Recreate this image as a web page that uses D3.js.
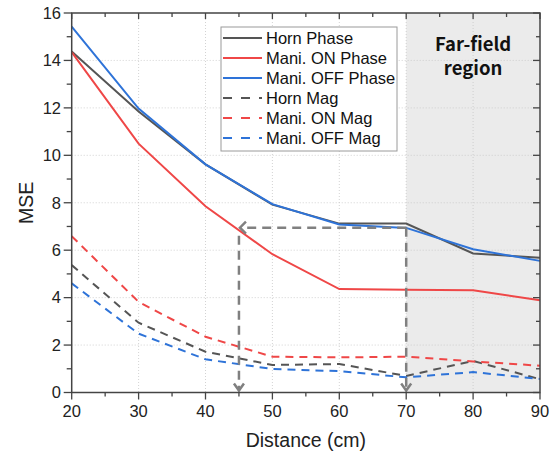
<!DOCTYPE html>
<html><head><meta charset="utf-8">
<script src="https://cdn.jsdelivr.net/npm/d3@7"></script>
<style>body{margin:0;background:#fff}svg{display:block}</style>
</head><body>
<svg id="c" width="552" height="455"></svg>
<script>
const distances = [20, 30, 40, 50, 60, 70, 80, 90];
const hornPhase = [14.38, 11.85, 9.62, 7.92, 7.12, 7.12, 5.86, 5.68];
const maniOnPhase = [14.35, 10.49, 7.85, 5.83, 4.36, 4.33, 4.31, 3.89];
const maniOffPhase = [15.43, 11.97, 9.62, 7.94, 7.08, 6.94, 6.04, 5.55];
const hornMag = [5.37, 2.94, 1.72, 1.16, 1.2, 0.7, 1.33, 0.56];
const maniOnMag = [6.59, 3.82, 2.35, 1.51, 1.48, 1.51, 1.31, 1.13];
const maniOffMag = [4.6, 2.48, 1.4, 0.99, 0.9, 0.64, 0.86, 0.57];
const seriesNames = ["Horn Phase", "Mani. ON Phase", "Mani. OFF Phase", "Horn Mag", "Mani. ON Mag", "Mani. OFF Mag"];
const xTicks = [20, 30, 40, 50, 60, 70, 80, 90];
const yTicks = [0, 2, 4, 6, 8, 10, 12, 14, 16];
const farField = [70, 90];
const arrowY = 6.95;
const arrowX = [45, 70];

const svg = d3.select("#c");
const L = 71.7, R = 540, T = 13, B = 392.5;
const x = d3.scaleLinear().domain([20, 90]).range([L, R]);
const y = d3.scaleLinear().domain([0, 16]).range([B, T]);
const font = "'Liberation Sans', Arial, sans-serif";

const colors = ["#555555", "#ef4747", "#2e73d8", "#555555", "#ef4747", "#2e73d8"];
const data = [hornPhase, maniOnPhase, maniOffPhase, hornMag, maniOnMag, maniOffMag];

// far-field shading
svg.append("rect").attr("x", x(farField[0])).attr("y", T)
  .attr("width", x(farField[1]) - x(farField[0])).attr("height", B - T)
  .attr("fill", "#ebebeb");

// grid
const g = svg.append("g");
xTicks.slice(1, -1).forEach(v => g.append("line").attr("x1", x(v)).attr("x2", x(v)).attr("y1", T).attr("y2", B)
  .attr("stroke", "#c8c8c8").attr("stroke-width", 0.8).attr("stroke-dasharray", "1,2"));
yTicks.slice(1, -1).forEach(v => g.append("line").attr("y1", y(v)).attr("y2", y(v)).attr("x1", L).attr("x2", R)
  .attr("stroke", "#c8c8c8").attr("stroke-width", 0.8).attr("stroke-dasharray", "1,2"));

// far-field text
const cx = (x(farField[0]) + x(farField[1])) / 2;
const ffFont = "'Noto Sans CJK KR', 'Noto Sans', sans-serif";
svg.append("text").attr("x", cx).attr("y", 51).attr("text-anchor", "middle")
  .attr("font-family", ffFont).attr("font-weight", "bold")
  .attr("font-size", 18.5).attr("fill", "#111").text("Far-field");
svg.append("text").attr("x", cx).attr("y", 75).attr("text-anchor", "middle")
  .attr("font-family", ffFont).attr("font-weight", "bold")
  .attr("font-size", 18.5).attr("fill", "#111").text("region");

// lines
const line = d3.line().x((d, i) => x(distances[i])).y(d => y(d));
data.forEach((s, i) => {
  svg.append("path").datum(s).attr("d", line).attr("fill", "none")
    .attr("stroke", colors[i]).attr("stroke-width", 2)
    .attr("stroke-dasharray", i >= 3 ? "8,6" : null);
});

// arrows
const ac = "#808080";
const ag = svg.append("g").attr("stroke", ac).attr("stroke-width", 2.5).attr("fill", "none");
ag.append("line").attr("x1", x(arrowX[1])).attr("x2", x(arrowX[0]) + 2).attr("y1", y(arrowY)).attr("y2", y(arrowY)).attr("stroke-dasharray", "9,6");
ag.append("line").attr("x1", x(arrowX[0])).attr("x2", x(arrowX[0])).attr("y1", y(arrowY) + 8).attr("y2", B - 2).attr("stroke-dasharray", "9,6");
ag.append("line").attr("x1", x(arrowX[1])).attr("x2", x(arrowX[1])).attr("y1", y(arrowY)).attr("y2", B - 2).attr("stroke-dasharray", "9,6");
ag.append("path").attr("d", `M${x(arrowX[0]) + 7},${y(arrowY) - 6} L${x(arrowX[0]) + 1},${y(arrowY)} L${x(arrowX[0]) + 7},${y(arrowY) + 6}`);
arrowX.forEach(v => ag.append("path").attr("d", `M${x(v) - 5},${B - 9} L${x(v)},${B - 2} L${x(v) + 5},${B - 9}`));

// frame
svg.append("rect").attr("x", L).attr("y", T).attr("width", R - L).attr("height", B - T)
  .attr("fill", "none").attr("stroke", "#444").attr("stroke-width", 1.5);

// axes ticks
const xMinor = d3.range(25, 90, 10);
const yMinor = d3.range(1, 16, 2);
const ax = svg.append("g").attr("stroke", "#444").attr("stroke-width", 1.3);
xTicks.forEach(v => { ax.append("line").attr("x1", x(v)).attr("x2", x(v)).attr("y1", B).attr("y2", B + 7);
  ax.append("line").attr("x1", x(v)).attr("x2", x(v)).attr("y1", T).attr("y2", T + 6); });
xMinor.forEach(v => { ax.append("line").attr("x1", x(v)).attr("x2", x(v)).attr("y1", B).attr("y2", B + 4);
  ax.append("line").attr("x1", x(v)).attr("x2", x(v)).attr("y1", T).attr("y2", T + 4); });
yTicks.forEach(v => { ax.append("line").attr("y1", y(v)).attr("y2", y(v)).attr("x1", L).attr("x2", L - 8);
  ax.append("line").attr("y1", y(v)).attr("y2", y(v)).attr("x1", R).attr("x2", R - 7); });
yMinor.forEach(v => { ax.append("line").attr("y1", y(v)).attr("y2", y(v)).attr("x1", L).attr("x2", L - 5);
  ax.append("line").attr("y1", y(v)).attr("y2", y(v)).attr("x1", R).attr("x2", R - 4); });

xTicks.forEach(v => svg.append("text").attr("x", x(v)).attr("y", 417).attr("text-anchor", "middle")
  .attr("font-family", font).attr("font-size", 16.5).attr("fill", "#222").text(v));
yTicks.forEach(v => svg.append("text").attr("x", 61).attr("y", y(v) + 5.8).attr("text-anchor", "end")
  .attr("font-family", font).attr("font-size", 16.5).attr("fill", "#222").text(v));

svg.append("text").attr("x", (L + R) / 2).attr("y", 447).attr("text-anchor", "middle")
  .attr("font-family", font).attr("font-size", 19.5).attr("fill", "#222").text("Distance (cm)");
svg.append("text").attr("transform", `translate(33,${(T + B) / 2}) rotate(-90)`).attr("text-anchor", "middle")
  .attr("font-family", font).attr("font-size", 19.5).attr("fill", "#222").text("MSE");

// legend
const lg = svg.append("g");
lg.append("rect").attr("x", 221).attr("y", 27).attr("width", 176).attr("height", 124)
  .attr("fill", "#fff").attr("stroke", "#9a9a9a").attr("stroke-width", 1);
seriesNames.forEach((n, i) => {
  const yy = 38 + i * 20;
  lg.append("line").attr("x1", 223).attr("x2", 262).attr("y1", yy).attr("y2", yy)
    .attr("stroke", colors[i]).attr("stroke-width", 2).attr("stroke-dasharray", i >= 3 ? "9,9" : null);
  lg.append("text").attr("x", 266).attr("y", yy + 6).attr("font-family", font).attr("font-size", 16.5)
    .attr("fill", "#111").text(n);
});
</script>
</body></html>
